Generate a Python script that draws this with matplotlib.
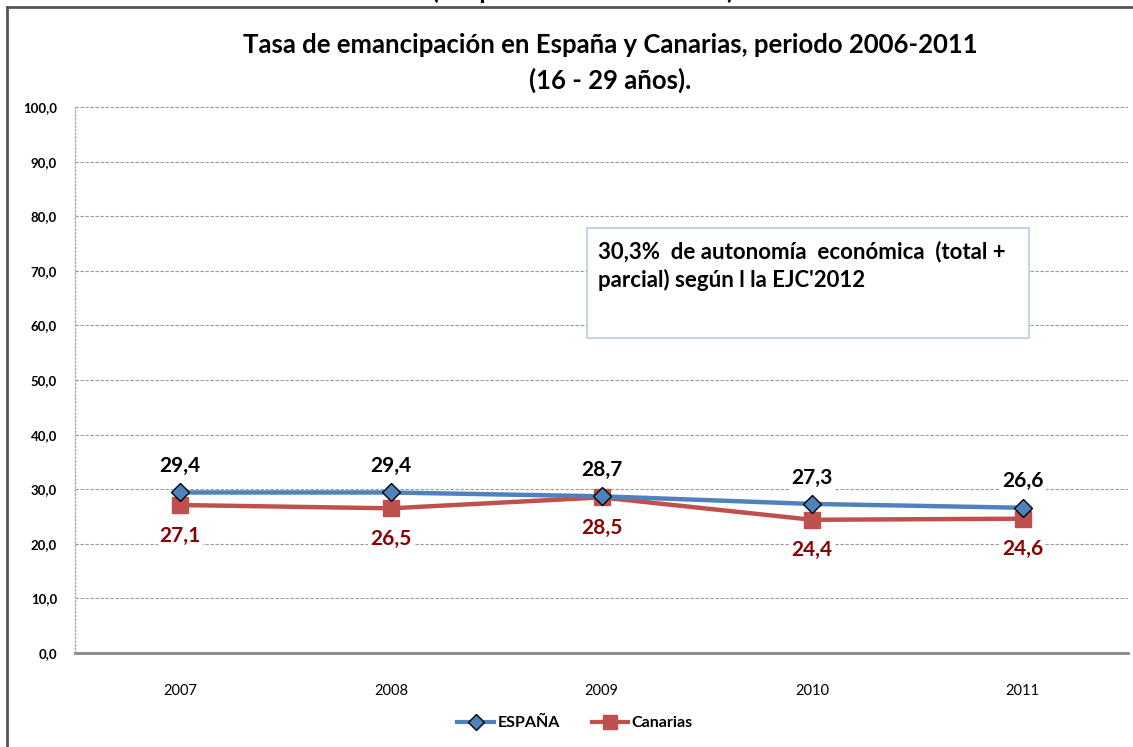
import matplotlib
matplotlib.use("Agg")
import matplotlib.pyplot as plt
from matplotlib.lines import Line2D
from matplotlib.patches import Rectangle

years = ["2007", "2008", "2009", "2010", "2011"]
espana = [29.4, 29.4, 28.7, 27.3, 26.6]
canarias = [27.1, 26.5, 28.5, 24.4, 24.6]
yticks = [0, 10, 20, 30, 40, 50, 60, 70, 80, 90, 100]

plt.rcParams['font.family'] = ['Lato', 'DejaVu Sans']

W, H = 1133, 747
fig = plt.figure(figsize=(W / 100, H / 100), dpi=100)
ax = fig.add_axes([75 / W, 1 - 653 / H, (1128 - 75) / W, (653 - 107) / H])

x = list(range(len(years)))
blue = '#4F81BD'
red = '#C0504D'
dark_red = '#8B0000'

ax.plot(x, espana, color=blue, lw=3.2, marker='D', ms=9, mfc=blue, mec='black',
        mew=1.0, zorder=4)
ax.plot(x, canarias, color=red, lw=3.2, marker='s', ms=11.5, mfc=red, mec=red,
        zorder=3)

for xi, v in zip(x, espana):
    ax.annotate(f"{v:.1f}".replace('.', ','), (xi, v), xytext=(0, 19),
                textcoords='offset points', ha='center', va='center',
                fontsize=15, fontweight='bold', color='black', zorder=6,
                bbox=dict(boxstyle='square,pad=0.1', fc='white', ec='none'))
for xi, v in zip(x, canarias):
    ax.annotate(f"{v:.1f}".replace('.', ','), (xi, v), xytext=(0, -22),
                textcoords='offset points', ha='center', va='center',
                fontsize=15, fontweight='bold', color=dark_red, zorder=6,
                bbox=dict(boxstyle='square,pad=0.1', fc='white', ec='none'))

ax.set_xlim(-0.5, len(years) - 0.5)
ax.set_ylim(0, 100)
ax.set_yticks(yticks)
ax.set_yticklabels([f"{t:.1f}".replace('.', ',') for t in yticks],
                   fontsize=9.5, fontweight='bold')
ax.set_xticks(x)
ax.set_xticklabels(years, fontsize=10.5)
ax.tick_params(axis='both', length=0)
ax.tick_params(axis='y', pad=13)
ax.tick_params(axis='x', pad=22)
ax.grid(axis='y', color='#999999', linestyle=(0, (3, 1.5)), lw=0.8)
ax.set_axisbelow(True)
for s in ['top', 'right']:
    ax.spines[s].set_visible(False)
ax.spines['left'].set_color('#AAAAAA')
ax.spines['left'].set_linestyle(':')
ax.spines['left'].set_linewidth(1.0)
ax.spines['bottom'].set_color('#888888')
ax.spines['bottom'].set_linewidth(2.0)

# Title
fig.text(610 / W, 1 - 45 / H, "Tasa de emancipación en España y Canarias, periodo 2006-2011",
         ha='center', va='center', fontsize=18.5, fontweight='bold')
fig.text(610 / W, 1 - 80 / H, "(16 - 29 años).",
         ha='center', va='center', fontsize=18.5, fontweight='bold')
# partially cut text at the very top (cut off in the reference too)
fig.text(583 / W, 1 + 1 / H, "(ocupados de 16 a 29 años)", ha='center', va='baseline',
         fontsize=18, fontweight='bold')

# Text box
fig.patches.append(Rectangle((587 / W, 1 - 338 / H), (1029 - 587) / W, (338 - 228) / H,
                             transform=fig.transFigure, fc='white', ec='#B9C9E0', lw=1.2,
                             zorder=5))
fig.text(598 / W, 1 - 252 / H, "30,3%  de autonomía  económica  (total +",
         ha='left', va='center', fontsize=16, fontweight='bold', zorder=6)
fig.text(598 / W, 1 - 280 / H, "parcial) según l la EJC'2012",
         ha='left', va='center', fontsize=16, fontweight='bold', zorder=6)

# Legend
handles = [Line2D([], [], color=blue, lw=3, marker='D', ms=8, mfc=blue, mec='black'),
           Line2D([], [], color=red, lw=3, marker='s', ms=10, mfc=red, mec=red)]
leg = fig.legend(handles, ["ESPAÑA", "Canarias"], loc='center', ncol=2,
                 bbox_to_anchor=(575 / W, 1 - 723 / H), frameon=False,
                 prop={'weight': 'bold', 'size': 11.5}, handlelength=2.3,
                 handletextpad=0.2, columnspacing=2.0)

# Frame lines
fig.add_artist(Line2D([7 / W, 7 / W], [0, 1 - 7 / H], transform=fig.transFigure,
                      color='#555555', lw=2))
fig.add_artist(Line2D([7 / W, 1], [1 - 7 / H, 1 - 7 / H], transform=fig.transFigure,
                      color='#555555', lw=2))

fig.savefig("out.png", dpi=100)
